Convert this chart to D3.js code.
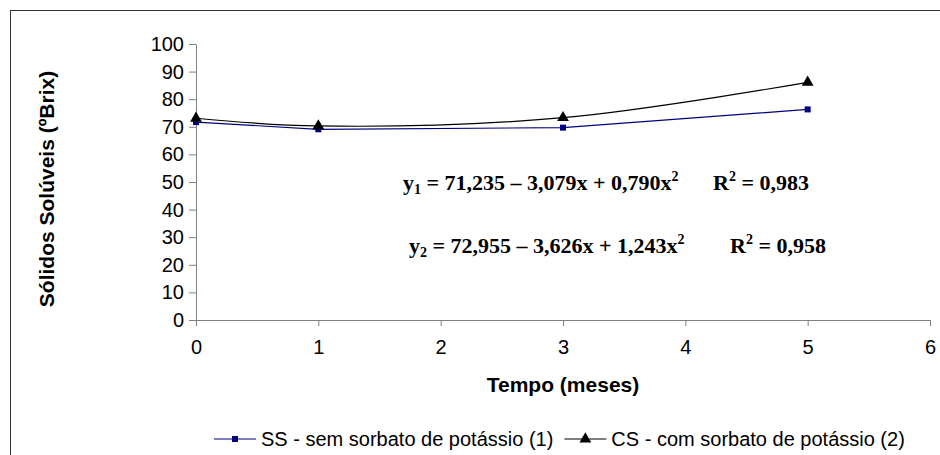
<!DOCTYPE html>
<html>
<head>
<meta charset="utf-8">
<script src="https://cdn.jsdelivr.net/npm/d3@7"></script>
<style>
  body { margin: 0; background: #fff; }
  text { font-family: Arial, "Liberation Sans", sans-serif; }
  .eq { font-family: "Times New Roman", "Liberation Serif", serif; font-weight: bold; }
</style>
</head>
<body>
<svg id="chart" width="940" height="455"></svg>
<script>
// values
var months = [0, 1, 3, 5];
var ssValues = [71.7, 69.1, 69.7, 76.3];
var csValues = [73.1, 70.3, 73.3, 86.1];
var xTicks = [0, 1, 2, 3, 4, 5, 6];
var yTicks = [0, 10, 20, 30, 40, 50, 60, 70, 80, 90, 100];
var seriesNames = ["SS - sem sorbato de potássio (1)", "CS - com sorbato de potássio (2)"];
var eqSubs = ["1", "2"];
var eqBodies = ["71,235 – 3,079x + 0,790x", "72,955 – 3,626x + 1,243x"];
var r2Values = ["0,983", "0,958"];

var svg = d3.select("#chart");

// outer frame (right / bottom run off the picture)
svg.append("rect")
  .attr("x", 10.5).attr("y", 10.5)
  .attr("width", 960).attr("height", 480)
  .attr("fill", "none")
  .attr("stroke", "#333");

var x = d3.scaleLinear().domain([0, 6]).range([196, 930]);
var y = d3.scaleLinear().domain([0, 100]).range([320, 44]);

var xAxis = svg.append("g")
  .attr("transform", "translate(0," + y(0) + ")")
  .call(d3.axisBottom(x).tickValues(xTicks).tickFormat(d3.format("d"))
    .tickSize(6).tickSizeOuter(0).tickPadding(14));
var yAxis = svg.append("g")
  .attr("transform", "translate(" + x(0) + ",0)")
  .call(d3.axisLeft(y).tickValues(yTicks).tickFormat(d3.format("d"))
    .tickSize(7).tickSizeOuter(0).tickPadding(5));

[xAxis, yAxis].forEach(function(ax) {
  ax.select(".domain").attr("stroke", "#808080");
  ax.selectAll(".tick line").attr("stroke", "#808080");
  ax.selectAll(".tick text")
    .attr("fill", "#000")
    .style("font-size", "20px")
    .style("font-family", "Arial, 'Liberation Sans', sans-serif");
});

// axis titles
svg.append("text")
  .attr("x", (x(0) + x(6)) / 2).attr("y", 392)
  .attr("text-anchor", "middle")
  .style("font-size", "21px").style("font-weight", "bold")
  .text("Tempo (meses)");

svg.append("text")
  .attr("transform", "translate(54," + 189 + ") rotate(-90)")
  .attr("text-anchor", "middle")
  .style("font-size", "21px").style("font-weight", "bold")
  .text("Sólidos Solúveis (ºBrix)");

// series
var ssData = months.map(function(m, i) { return [m, ssValues[i]]; });
var csData = months.map(function(m, i) { return [m, csValues[i]]; });

var lineLinear = d3.line()
  .x(function(d) { return x(d[0]); })
  .y(function(d) { return y(d[1]); });
var lineSmooth = d3.line()
  .curve(d3.curveCatmullRom.alpha(0.5))
  .x(function(d) { return x(d[0]); })
  .y(function(d) { return y(d[1]); });

svg.append("path").datum(csData)
  .attr("d", lineSmooth)
  .attr("fill", "none").attr("stroke", "#000").attr("stroke-width", 1.2);
svg.append("path").datum(ssData)
  .attr("d", lineLinear)
  .attr("fill", "none").attr("stroke", "#000080").attr("stroke-width", 1.2);

var tri = d3.symbol().type(d3.symbolTriangle).size(60);

svg.selectAll(".sq").data(ssData).enter().append("rect")
  .attr("x", function(d) { return x(d[0]) - 3; })
  .attr("y", function(d) { return y(d[1]) - 3; })
  .attr("width", 6).attr("height", 6)
  .attr("fill", "#000080");

svg.selectAll(".tri").data(csData).enter().append("path")
  .attr("d", tri)
  .attr("transform", function(d) { return "translate(" + x(d[0]) + "," + y(d[1]) + ")"; })
  .attr("fill", "#000");

// regression equations
var eqX = [403, 409];
var eqY = [190, 253];
var r2X = [713, 730];
eqBodies.forEach(function(body, i) {
  var t = svg.append("text").attr("class", "eq")
    .attr("x", eqX[i]).attr("y", eqY[i])
    .style("font-size", "22px");
  t.append("tspan").text("y");
  t.append("tspan").attr("dy", 4).style("font-size", "14px").text(eqSubs[i]);
  t.append("tspan").attr("dy", -4).text(" = " + body);
  t.append("tspan").attr("dy", -9).style("font-size", "14px").text("2");

  var r = svg.append("text").attr("class", "eq")
    .attr("x", r2X[i]).attr("y", eqY[i])
    .style("font-size", "22px");
  r.append("tspan").text("R");
  r.append("tspan").attr("dy", -9).style("font-size", "14px").text("2");
  r.append("tspan").attr("dy", 9).text(" = " + r2Values[i]);
});

// legend
var legendY = 439;
var lx = 214;
var legendColors = ["#000080", "#000"];
seriesNames.forEach(function(name, i) {
  var g = svg.append("g");
  g.append("line")
    .attr("x1", lx).attr("x2", lx + 42)
    .attr("y1", legendY).attr("y2", legendY)
    .attr("stroke", legendColors[i]).attr("stroke-width", 1.2);
  if (i === 0) {
    g.append("rect").attr("x", lx + 18).attr("y", legendY - 3)
      .attr("width", 6).attr("height", 6).attr("fill", legendColors[i]);
  } else {
    g.append("path").attr("d", tri)
      .attr("transform", "translate(" + (lx + 21) + "," + legendY + ")")
      .attr("fill", legendColors[i]);
  }
  var t = g.append("text")
    .attr("x", lx + 47).attr("y", legendY + 7)
    .style("font-size", "20px")
    .text(name);
  lx = lx + 47 + t.node().getComputedTextLength() + 11;
});
</script>
</body>
</html>
